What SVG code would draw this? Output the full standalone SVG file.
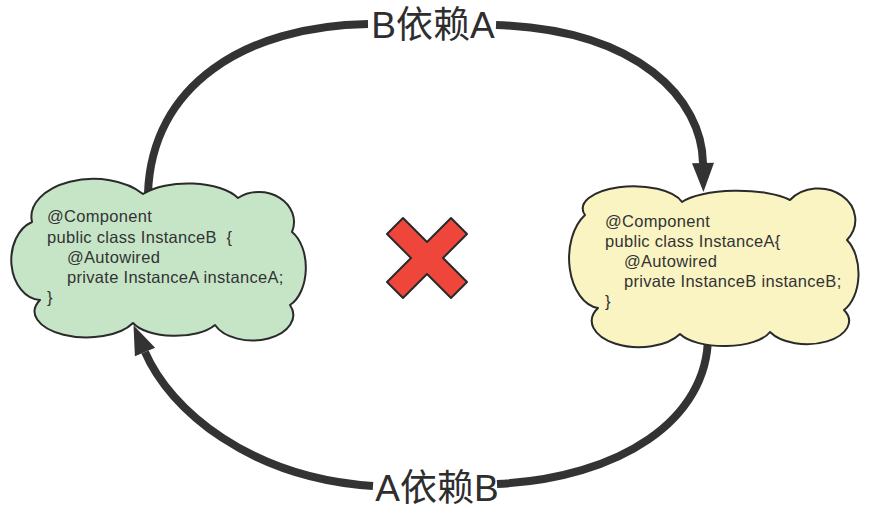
<svg xmlns="http://www.w3.org/2000/svg" width="873" height="514" viewBox="0 0 873 514">
<style>
.cloud{stroke:#2a2a2a;stroke-width:2;stroke-linejoin:round}
.code{font-family:"Liberation Sans",Arial,sans-serif;font-size:16.5px;letter-spacing:0.3px;fill:#333;white-space:pre}
.lbl{font-family:"Liberation Sans","Noto Sans CJK SC",sans-serif;font-size:37px;fill:#2e2e2e;text-anchor:middle}
.edge{fill:none;stroke:#333;stroke-width:8}
</style>
<defs>
<marker id="arr" markerUnits="userSpaceOnUse" markerWidth="30" markerHeight="22" refX="0" refY="11" orient="auto" overflow="visible">
<path d="M0,0 L29,11 L0,22 Z" fill="#333"/>
</marker>
</defs>
<rect width="873" height="514" fill="#fff"/>
<g id="connectors">
<path class="edge" d="M148,193 C152,85 245,26 368,24"/>
<path class="edge" d="M496,25 C640,30 702,100 703,163" marker-end="url(#arr)"/>
<path class="edge" d="M708,336 C708,420 620,478 497,484"/>
<path class="edge" d="M373,486 C250,478 170,410 145,352" marker-end="url(#arr)"/>
<text class="lbl" x="433" y="38">B依赖A</text>
<text class="lbl" x="437" y="501">A依赖B</text>
</g>
<g id="instanceB">
<path class="cloud" fill="#C6E5C7" d="M32,222 A62,38 0 0 1 143,194 A55,25 0 0 1 238,198 A35,30 0 0 1 292,232 A25,40 0 0 1 290,305 A40,25 0 0 1 215,325 A45,20 0 0 1 133,323 A50,25 0 0 1 40,300 A30,40 0 0 1 32,222 Z"/>
<text class="code" x="47" y="222">@Component</text>
<text class="code" x="47" y="243">public class InstanceB  {</text>
<text class="code" x="67" y="263">@Autowired</text>
<text class="code" x="67" y="283">private InstanceA instanceA;</text>
<text class="code" x="47" y="303">}</text>
</g>
<g id="instanceA">
<path class="cloud" fill="#FAF4C3" d="M585,215 A50,22 0 0 1 682,202 A60,18 0 0 1 790,200 A35,30 0 0 1 847,240 A25,40 0 0 1 844,310 A40,22 0 0 1 770,332 A48,20 0 0 1 680,334 A45,25 0 0 1 598,308 A32,50 0 0 1 585,215 Z"/>
<text class="code" x="605" y="227">@Component</text>
<text class="code" x="605" y="247">public class InstanceA{</text>
<text class="code" x="624" y="267">@Autowired</text>
<text class="code" x="624" y="287">private InstanceB instanceB;</text>
<text class="code" x="605" y="307">}</text>
</g>
<g id="cross">
<polygon points="403,218 427,242 451,218 467,234 443,258 467,282 451,298 427,274 403,298 387,282 411,258 387,234" fill="#EE463A" stroke="#2a2a2a" stroke-width="2" stroke-linejoin="round"/>
</g>
</svg>
